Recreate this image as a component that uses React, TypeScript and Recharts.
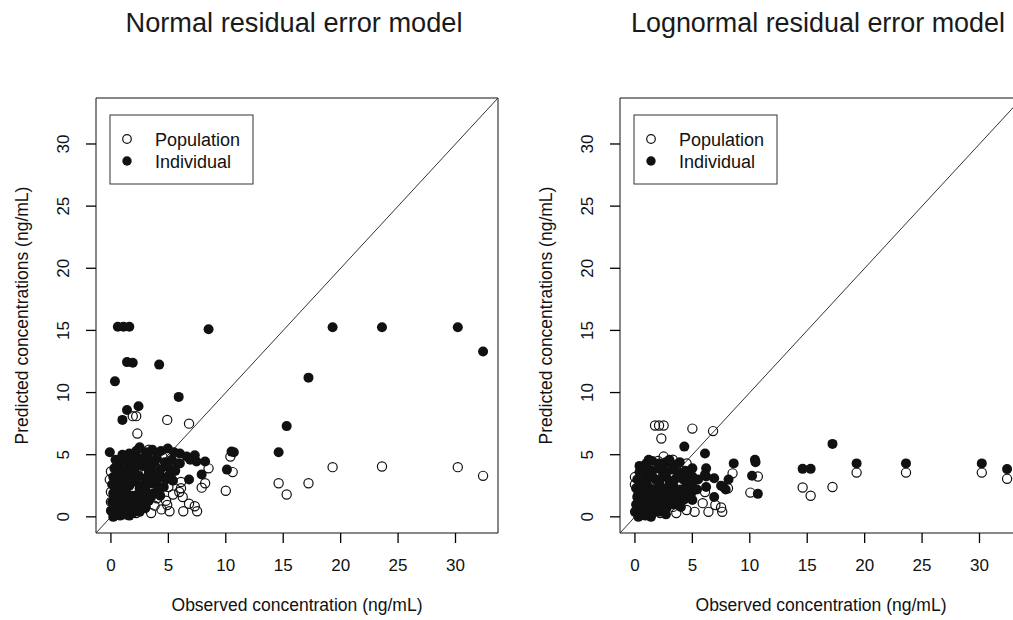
import { ReferenceArea, ReferenceLine, Scatter, ScatterChart, XAxis, YAxis } from "recharts";

// Observed vs predicted concentrations, two residual error models side by side.
// Points are [observed, predicted] in ng/mL, read off the reference figure.

const AXIS_TICKS = [0, 5, 10, 15, 20, 25, 30];
const DOMAIN: [number, number] = [-1.3, 33.7];

const normalPopulation: [number, number][] = [
  [32.4, 3.3], [30.2, 4.0], [23.6, 4.05], [19.3, 4.0], [17.2, 2.7], [15.3, 1.8], [14.6, 2.7],
  [10.4, 4.85], [10.6, 3.6], [10.0, 2.1], [8.5, 3.9], [8.2, 2.7], [7.9, 2.35], [6.1, 2.8],
  [6.1, 2.3], [6.8, 1.05], [7.3, 0.85], [7.5, 0.45], [6.3, 0.45], [5.1, 0.45], [4.9, 0.95],
  [4.4, 0.6], [3.5, 0.3], [2.5, 0.7], [3.0, 1.0], [6.8, 7.5], [4.9, 7.8], [2.3, 6.7],
  [1.9, 8.1], [2.2, 8.1], [0.0, 3.65], [-0.1, 3.0], [0.0, 2.0], [0.0, 1.2], [3.3, 5.4],
  [5.95, 2.0], [6.25, 1.6], [0.5, 0.3], [1.0, 0.8], [1.5, 1.5], [2.0, 2.3], [2.6, 3.0],
  [3.1, 3.6], [3.8, 4.1], [4.2, 3.5], [4.6, 2.9], [5.0, 2.4], [5.4, 1.8], [4.0, 1.5],
  [3.5, 2.0], [2.8, 1.2], [1.8, 0.6], [1.2, 2.0], [0.8, 2.7], [0.5, 1.5], [1.6, 3.2],
  [2.3, 4.0], [1.0, 4.0], [3.0, 4.5], [4.5, 4.8], [2.0, 4.7], [5.2, 3.3], [0.3, 0.1],
  [1.3, 0.2], [2.2, 0.3], [3.8, 0.9], [4.8, 1.3],
];

const normalIndividual: [number, number][] = [
  [32.4, 13.3], [30.2, 15.25], [23.6, 15.25], [19.3, 15.25], [17.2, 11.2], [15.3, 7.3],
  [14.6, 5.2], [10.5, 5.25], [10.7, 5.2], [10.1, 3.8], [8.5, 15.1], [0.6, 15.3], [1.1, 15.3],
  [1.6, 15.3], [1.4, 12.45], [1.9, 12.4], [4.2, 12.25], [0.35, 10.9], [5.9, 9.65], [2.4, 8.9],
  [1.4, 8.6], [1.0, 7.8], [6.0, 5.1], [6.6, 4.85], [7.3, 4.95], [8.2, 4.45], [6.9, 4.6],
  [7.45, 4.45], [7.9, 3.4], [6.8, 3.0], [6.0, 4.3], [-0.1, 5.2],
  [1.6, 5.1], [2.2, 5.3], [3.05, 5.2], [3.6, 5.4], [4.35, 5.3], [4.95, 5.5], [5.5, 5.2],
  [0.8, 4.4], [1.3, 4.6], [1.9, 4.8], [2.6, 4.7], [3.3, 4.6], [4.0, 4.7], [4.7, 4.4], [5.3, 4.6],
  [0.3, 3.9], [0.9, 3.7], [1.5, 4.1], [2.1, 3.9], [2.8, 4.1], [3.5, 4.0], [4.3, 3.8], [5.0, 4.0],
  [5.6, 3.7], [0.2, 3.2], [0.7, 3.4], [1.2, 3.1], [1.8, 3.5], [2.4, 3.3], [3.0, 3.1], [3.7, 3.3],
  [4.4, 3.2], [5.1, 3.4], [0.1, 2.6], [0.6, 2.4], [1.1, 2.7], [1.6, 2.5], [2.2, 2.8], [2.8, 2.5],
  [3.4, 2.7], [4.0, 2.6], [4.6, 2.4], [0.2, 1.9], [0.7, 1.8], [1.3, 2.0], [1.9, 1.7], [2.5, 2.0],
  [3.1, 1.8], [3.7, 1.9], [4.3, 1.7], [0.1, 1.2], [0.5, 1.0], [1.0, 1.3], [1.5, 1.1], [2.1, 1.3],
  [2.7, 1.1], [3.3, 1.3], [0.0, 0.5], [0.4, 0.3], [0.9, 0.6], [1.4, 0.4], [2.0, 0.6], [2.5, 0.4],
  [0.2, 0.0], [0.8, 0.1], [1.6, 0.1],
  [0.4, 4.6], [1.0, 5.0], [2.5, 5.6], [3.2, 5.0], [4.0, 5.1], [0.5, 2.9], [1.0, 2.2], [1.4, 3.4],
  [2.0, 3.0], [2.5, 2.3], [3.0, 2.2], [3.3, 3.6], [3.9, 2.9], [4.2, 2.2], [4.8, 3.0], [0.3, 1.5],
  [0.9, 1.6], [1.7, 1.4], [2.3, 1.6], [2.9, 1.5], [3.5, 1.6], [0.6, 0.8], [1.2, 0.9], [1.8, 0.9],
  [2.4, 0.9], [3.0, 0.7], [1.1, 0.3], [1.9, 0.3], [0.4, 2.1], [5.4, 2.9], [5.8, 4.3], [1.7, 4.4],
  [2.4, 4.3], [3.8, 4.4],
];

const lognormalPopulation: [number, number][] = [
  [32.4, 3.06], [30.2, 3.56], [23.6, 3.56], [19.3, 3.56], [17.2, 2.4], [15.3, 1.7], [14.6, 2.36],
  [10.7, 3.25], [10.05, 1.95], [8.5, 3.5], [8.1, 2.3], [6.1, 2.0], [6.4, 0.4], [7.0, 0.95],
  [7.5, 0.75], [7.6, 0.4], [5.2, 0.4], [4.5, 0.55], [3.6, 0.3], [5.9, 1.1], [6.8, 6.9],
  [5.0, 7.1], [1.75, 7.35], [2.1, 7.35], [2.5, 7.35], [2.3, 6.3], [0.0, 3.2], [0.0, 2.6],
  [2.5, 4.85], [3.3, 4.6], [4.5, 4.3], [3.3, 0.8], [0.5, 0.3], [1.0, 0.8], [1.5, 1.4],
  [2.0, 2.1], [2.6, 2.8], [3.1, 3.3], [3.8, 3.9], [4.2, 3.2], [4.6, 2.6], [4.0, 1.3],
  [3.5, 1.8], [2.8, 1.1], [1.8, 0.5], [1.2, 1.9], [0.8, 2.6], [0.5, 1.4], [1.6, 3.0],
  [2.3, 3.8], [1.0, 3.7], [3.0, 4.2], [2.0, 4.5], [0.3, 0.1], [1.3, 0.2], [2.2, 0.3],
];

const lognormalIndividual: [number, number][] = [
  [32.4, 3.84], [30.2, 4.3], [23.6, 4.3], [19.3, 4.3], [17.2, 5.87], [15.3, 3.86], [14.6, 3.86],
  [10.45, 4.6], [10.5, 4.4], [10.2, 3.3], [10.7, 1.85], [8.6, 4.3], [8.15, 3.0], [7.9, 2.2],
  [7.7, 2.4], [6.9, 3.1], [6.9, 1.6], [6.2, 3.9], [6.2, 3.25], [6.2, 2.4], [6.1, 5.1],
  [4.3, 5.65], [5.0, 3.9], [5.0, 3.25], [5.0, 2.45], [5.0, 1.35], [7.5, 2.5], [6.1, 3.4],
  [1.0, 4.3], [1.5, 4.5], [2.1, 4.3], [2.7, 4.4], [3.4, 4.2], [3.9, 4.4],
  [0.4, 3.6], [0.9, 3.8], [1.4, 3.7], [2.0, 3.9], [2.6, 3.6], [3.2, 3.8], [3.8, 3.6], [4.4, 3.7],
  [0.2, 3.0], [0.7, 2.9], [1.2, 3.1], [1.8, 3.0], [2.4, 3.2], [3.0, 2.9], [3.6, 3.1], [4.2, 3.0],
  [4.7, 2.8], [0.1, 2.3], [0.6, 2.2], [1.1, 2.4], [1.6, 2.2], [2.2, 2.5], [2.8, 2.3], [3.4, 2.4],
  [4.0, 2.2], [4.6, 2.0], [0.2, 1.6], [0.7, 1.5], [1.3, 1.7], [1.9, 1.5], [2.5, 1.7], [3.1, 1.5],
  [3.7, 1.6], [4.3, 1.4], [0.1, 1.0], [0.5, 0.9], [1.0, 1.1], [1.6, 0.9], [2.2, 1.0], [2.8, 0.8],
  [3.4, 1.0], [0.0, 0.4], [0.5, 0.3], [1.0, 0.5], [1.5, 0.3], [2.1, 0.4], [2.7, 0.2],
  [0.3, 0.0], [0.9, 0.1], [1.4, 0.0],
  [0.4, 4.1], [1.2, 4.6], [2.4, 4.1], [3.0, 4.6], [0.6, 3.3], [1.0, 2.7], [1.5, 3.3], [2.1, 2.8],
  [2.7, 3.3], [3.3, 2.7], [3.9, 3.3], [4.5, 3.3], [0.3, 1.9], [0.9, 2.0], [1.5, 1.9], [2.0, 2.0],
  [2.7, 2.0], [3.3, 2.0], [3.9, 1.9], [0.4, 1.3], [1.0, 1.4], [1.6, 1.3], [2.2, 1.3], [2.9, 1.2],
  [3.6, 1.2], [0.6, 0.6], [1.3, 0.7], [1.9, 0.7], [2.5, 0.6], [4.5, 2.5], [4.9, 1.9], [5.5, 3.0],
  [5.4, 2.2], [4.0, 0.8],
];

const FONT = "'Liberation Sans', Arial, sans-serif";
const INK = "#111";

// Plot region of the left panel, in page px; the right panel is shifted by PANEL_SHIFT.
const PLOT_LEFT = 96;
const PLOT_TOP = 98;
const PLOT_RIGHT = 498;
const PLOT_BOTTOM = 533;
const CHART_W = 510;
const PANEL_SHIFT = 524;
const X_AXIS_H = 50;
const Y_AXIS_W = 50;
const TICK_LEN = 10;

const toPoints = (pts: [number, number][]) => pts.map(([x, y]) => ({ x, y }));

const OpenDot = (props: any) => (
  <circle cx={props.cx} cy={props.cy} r={4.6} fill="none" stroke={INK} strokeWidth={1.2} />
);
const FilledDot = (props: any) => <circle cx={props.cx} cy={props.cy} r={5} fill={INK} />;

// R-style ticks: tick mark + label drawn together (y labels rotated)
const XTick = ({ x, payload }: any) => (
  <g>
    <path d={`M${x},${PLOT_BOTTOM}v${TICK_LEN}`} stroke="#000" strokeWidth={1.3} fill="none" />
    <text x={x} y={571} textAnchor="middle" fontSize={17} fontFamily={FONT} fill={INK}>
      {payload.value}
    </text>
  </g>
);

const YTick = ({ y, payload }: any) => (
  <g>
    <path d={`M${PLOT_LEFT},${y}h${-TICK_LEN}`} stroke="#000" strokeWidth={1.3} fill="none" />
    <text
      x={PLOT_LEFT - 27}
      y={y}
      transform={`rotate(-90, ${PLOT_LEFT - 27}, ${y})`}
      textAnchor="middle"
      fontSize={17}
      fontFamily={FONT}
      fill={INK}
    >
      {payload.value}
    </text>
  </g>
);

function Panel({ left, population, individual }: {
  left: number;
  population: [number, number][];
  individual: [number, number][];
}) {
  return (
    <div style={{ position: "absolute", left, top: 0 }}>
      <ScatterChart
        width={CHART_W}
        height={620}
        margin={{
          top: PLOT_TOP,
          left: PLOT_LEFT - Y_AXIS_W,
          right: CHART_W - PLOT_RIGHT,
          bottom: 620 - PLOT_BOTTOM - X_AXIS_H,
        }}
      >
        <XAxis
          type="number"
          dataKey="x"
          domain={DOMAIN}
          ticks={AXIS_TICKS}
          height={X_AXIS_H}
          axisLine={false}
          tickLine={false}
          tick={XTick}
          interval={0}
          allowDataOverflow
        />
        <YAxis
          type="number"
          dataKey="y"
          domain={DOMAIN}
          ticks={AXIS_TICKS}
          width={Y_AXIS_W}
          axisLine={false}
          tickLine={false}
          tick={YTick}
          interval={0}
          allowDataOverflow
        />
        <ReferenceArea x1={DOMAIN[0]} x2={DOMAIN[1]} y1={DOMAIN[0]} y2={DOMAIN[1]} fill="none" stroke={INK} strokeWidth={1} />
        <ReferenceLine
          segment={[{ x: DOMAIN[0], y: DOMAIN[0] }, { x: DOMAIN[1], y: DOMAIN[1] }]}
          stroke="#333"
          strokeWidth={1}
        />
        <Scatter data={toPoints(population)} shape={OpenDot} isAnimationActive={false} />
        <Scatter data={toPoints(individual)} shape={FilledDot} isAnimationActive={false} />
      </ScatterChart>
    </div>
  );
}

function PanelText({ shift, title, titleX, titleW }: { shift: number; title: string; titleX: number; titleW: number }) {
  const cx = (PLOT_LEFT + PLOT_RIGHT) / 2 + shift;
  const cy = (PLOT_TOP + PLOT_BOTTOM) / 2;
  const lx = 110 + shift;
  return (
    <g fontFamily={FONT} fill={INK}>
      <text
        x={titleX - titleW / 2}
        y={32}
        fontSize={27}
        fill="#1a1a1a"
        textLength={titleW}
        lengthAdjust="spacingAndGlyphs"
      >
        {title}
      </text>
      <text x={cx} y={611} textAnchor="middle" fontSize={17.5}>
        Observed concentration (ng/mL)
      </text>
      <text x={28 + shift} y={cy} transform={`rotate(-90, ${28 + shift}, ${cy})`} textAnchor="middle" fontSize={17.5}>
        Predicted concentrations (ng/mL)
      </text>
      <rect x={lx} y={115} width={143} height={69} fill="#fff" stroke="#333" strokeWidth={1} />
      <circle cx={lx + 17} cy={139} r={4.3} fill="none" stroke={INK} strokeWidth={1.2} />
      <circle cx={lx + 17} cy={161} r={4.7} fill={INK} />
      <text x={lx + 45} y={145.5} fontSize={18}>Population</text>
      <text x={lx + 45} y={167.5} fontSize={18}>Individual</text>
    </g>
  );
}

export default function App() {
  return (
    <div style={{ position: "absolute", left: 0, top: 0, width: 1013, height: 620, overflow: "hidden", background: "#fff" }}>
      <Panel left={0} population={normalPopulation} individual={normalIndividual} />
      <Panel left={PANEL_SHIFT} population={lognormalPopulation} individual={lognormalIndividual} />
      <svg width={1013} height={620} style={{ position: "absolute", left: 0, top: 0, pointerEvents: "none" }}>
        <PanelText shift={0} title="Normal residual error model" titleX={294} titleW={337} />
        <PanelText shift={PANEL_SHIFT} title="Lognormal residual error model" titleX={818} titleW={374} />
      </svg>
    </div>
  );
}
